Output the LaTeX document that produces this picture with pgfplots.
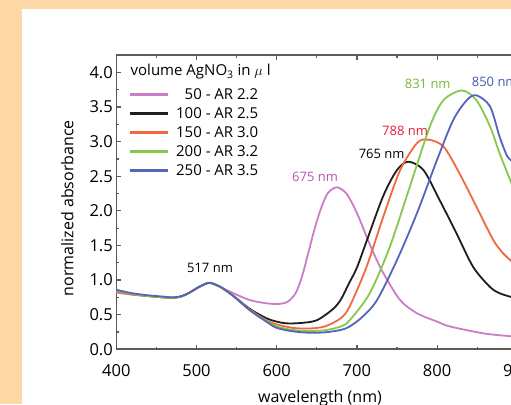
\documentclass[border=0pt]{standalone}
\usepackage{fontspec}
\setmainfont{Open Sans}
\usepackage{pgfplots}
\pgfplotsset{compat=1.18}

\definecolor{bgpeach}{RGB}{253,216,166}
\definecolor{framegray}{RGB}{95,90,90}
\definecolor{cpink}{RGB}{204,125,200}
\definecolor{cblack}{RGB}{30,30,30}
\definecolor{corange}{RGB}{240,105,65}
\definecolor{cgreen}{RGB}{135,200,75}
\definecolor{cblue}{RGB}{85,100,185}
\definecolor{lpink}{RGB}{185,85,175}
\definecolor{lred}{RGB}{228,30,60}
\definecolor{lgreen}{RGB}{120,185,50}
\definecolor{lblue}{RGB}{70,90,170}

\begin{document}
\begin{tikzpicture}[x=1pt,y=1pt]
\path[use as bounding box] (0,0) rectangle (511,404);
\clip (0,0) rectangle (511,404);
\fill[bgpeach] (0,0) rectangle (511,404);
\fill[white] (22,0) rectangle (511,395);
\begin{axis}[
    at={(116.3pt,54.7pt)}, anchor=south west,
    scale only axis, width=401pt, height=294.1pt,
    xmin=400, xmax=900, ymin=0, ymax=4.25,
    xtick={400,500,600,700,800,900},
    ytick={0,0.5,1,1.5,2,2.5,3,3.5,4},
    minor x tick num=1, minor y tick num=1,
    axis line style={framegray, line width=1.6pt},
    tick style={framegray, line width=1.2pt},
    major tick length=4.5pt, minor tick length=2.5pt,
    /pgf/number format/assume math mode=true,
    tick label style={font=\fontsize{16.5}{18}\selectfont},
    yticklabel style={/pgf/number format/.cd, fixed, fixed zerofill, precision=1},
    xticklabel style={/pgf/number format/1000 sep={}, yshift=-12pt},
    xlabel={wavelength (nm)},
    ylabel={normalized absorbance},
    xlabel style={at={(axis description cs:0.508,-0.166)}, anchor=center, font=\fontsize{16}{18}\selectfont},
    ylabel style={at={(axis description cs:-0.122,0.48)}, anchor=center, font=\fontsize{16}{18}\selectfont},
    legend cell align=right,
    legend image code/.code={\draw[#1, line width=3pt] (0pt,0pt) -- (38pt,0pt);},
    legend style={draw=none, fill=none, at={(0.029,0.894)}, anchor=north west,
        inner sep=0pt, row sep=2.6pt, font=\fontsize{15}{17}\selectfont,
        /tikz/every odd column/.append style={column sep=5pt}},
]
\addplot[cpink, line width=1.8pt, smooth] coordinates {
 (400,0.82) (420,0.79) (440,0.77) (460,0.75) (470,0.745) (480,0.76) (490,0.81)
 (500,0.88) (510,0.94) (517,0.96) (530,0.90) (546,0.81) (567,0.71) (587,0.665)
 (602,0.655) (614,0.69) (624,0.82) (632,1.07) (640,1.42) (648,1.77) (656,2.06)
 (664,2.26) (675,2.34) (687,2.25) (700,1.97) (712,1.63) (722,1.36) (733,1.10)
 (754,0.71) (775,0.52) (800,0.40) (816,0.33) (858,0.23) (891,0.19) (900,0.19)
};
\addlegendentry{50 - AR 2.2}
\addplot[cblack, line width=1.8pt, smooth] coordinates {
 (400,0.84) (420,0.80) (440,0.77) (460,0.75) (470,0.745) (480,0.76) (490,0.81)
 (500,0.88) (510,0.94) (517,0.96) (530,0.90) (546,0.77) (567,0.58) (587,0.45)
 (600,0.40) (612,0.375) (630,0.38) (650,0.42) (670,0.58) (680,0.72) (690,0.95)
 (700,1.18) (712,1.56) (733,2.22) (750,2.59) (764,2.71) (783,2.59) (803,2.16)
 (824,1.68) (845,1.19) (866,0.90) (878,0.81) (891,0.76) (900,0.72)
};
\addlegendentry{100 - AR 2.5}
\addplot[corange, line width=1.8pt, smooth] coordinates {
 (400,0.83) (420,0.79) (440,0.77) (460,0.75) (470,0.745) (480,0.76) (490,0.81)
 (500,0.88) (510,0.94) (517,0.96) (530,0.90) (546,0.77) (567,0.57) (587,0.42)
 (600,0.36) (620,0.31) (640,0.30) (660,0.33) (680,0.45) (691,0.62) (712,1.19)
 (733,1.92) (754,2.59) (775,2.98) (789,3.03) (808,2.93) (828,2.54) (849,2.06)
 (870,1.58) (882,1.39) (891,1.29) (900,1.18)
};
\addlegendentry{150 - AR 3.0}
\addplot[cgreen, line width=1.8pt, smooth] coordinates {
 (400,0.85) (420,0.80) (440,0.77) (460,0.75) (470,0.745) (480,0.76) (490,0.81)
 (500,0.88) (510,0.94) (517,0.96) (530,0.90) (546,0.77) (567,0.56) (587,0.41)
 (600,0.33) (620,0.28) (640,0.265) (660,0.275) (680,0.33) (691,0.42) (716,0.81)
 (741,1.48) (766,2.35) (791,3.22) (808,3.60) (831,3.74) (849,3.60) (866,3.22)
 (878,2.83) (891,2.45) (900,2.20)
};
\addlegendentry{200 - AR 3.2}
\addplot[cblue, line width=1.8pt, smooth] coordinates {
 (400,0.86) (420,0.81) (440,0.78) (460,0.76) (470,0.75) (480,0.765) (490,0.81)
 (500,0.88) (510,0.94) (517,0.96) (530,0.90) (546,0.77) (567,0.56) (587,0.40)
 (600,0.31) (620,0.26) (640,0.24) (660,0.245) (680,0.28) (691,0.33) (707,0.47)
 (725,0.71) (750,1.29) (775,1.97) (800,2.74) (820,3.31) (837,3.60) (849,3.67)
 (866,3.51) (878,3.07) (887,2.80) (893,2.72) (900,2.60)
};
\addlegendentry{250 - AR 3.5}

\node[anchor=west, font=\fontsize{15}{17}\selectfont] at (axis cs:413.5,4.01) {volume AgNO\textsubscript{3} in $\mu$ l};
\node[font=\fontsize{13}{15}\selectfont] at (axis cs:516.8,1.18) {517 nm};
\node[font=\fontsize{13}{15}\selectfont, text=lpink] at (axis cs:647.8,2.49) {675 nm};
\node[font=\fontsize{13}{15}\selectfont] at (axis cs:730.9,2.82) {765 nm};
\node[font=\fontsize{13}{15}\selectfont, text=lred] at (axis cs:760,3.16) {788 nm};
\node[font=\fontsize{13}{15}\selectfont, text=lgreen] at (axis cs:788.3,3.83) {831 nm};
\node[anchor=west, font=\fontsize{13}{15}\selectfont, text=lblue] at (axis cs:838.9,3.87) {850 nm};
\end{axis}
\end{tikzpicture}
\end{document}
